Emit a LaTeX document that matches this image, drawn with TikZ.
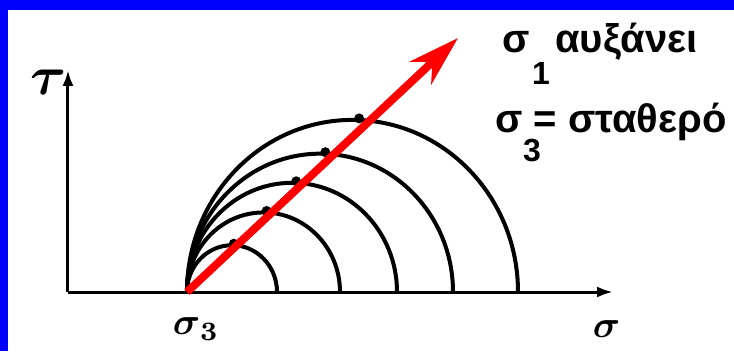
\documentclass[tikz,border=0pt]{standalone}
\usepackage[no-math]{fontspec}
\usepackage{amsmath}
\newfontfamily\greekfont{Liberation Sans}
\usetikzlibrary{arrows.meta}

\begin{document}
\begin{tikzpicture}[x=1pt, y=1pt,
  axisline/.style={line width=3pt, -{Latex[length=16pt,width=11pt]}},
  mohr/.style={line width=4pt},
  greektext/.style={inner sep=0pt, font=\greekfont\bfseries\fontsize{40}{44}\selectfont},
  greeksub/.style={inner sep=0pt, font=\greekfont\bfseries\fontsize{32}{36}\selectfont},
  axisname/.style={inner sep=0pt, scale=3.8}]
  \useasboundingbox (-68,-59) rectangle (666,292);
  % blue frame, left and top only
  \fill[blue] (-68,-59) rectangle (-60,292);
  \fill[blue] (-68,282) rectangle (666,292);

  % axes
  \coordinate (O) at (0,0);
  \coordinate (tauend) at (0,222);
  \coordinate (sigend) at (545,0);
  \coordinate (s3) at (119,0);
  \draw[axisline] (O) -- (tauend);
  \draw[axisline] (O) -- (sigend);

  % Mohr circles, all through sigma_3
  \foreach \r in {45,76.5,105,133,165.5} {
    \draw[mohr] (s3) arc[start angle=180, end angle=0, x radius=\r, y radius=1.04*\r];
    \fill ({119+1.04*\r},{1.04*\r+1.5}) circle (5);
  }

  % red arrow
  \coordinate (redtip) at (390,254);
  \draw[red, line width=8pt, -{Stealth[length=51pt,width=31pt,inset=16pt]}] (s3) -- (redtip);

  % labels
  \node[axisname, scale=1.45, anchor=base west] (taulbl) at (-39,197) {$\boldsymbol{\tau}$};
  \node[axisname, anchor=base west] (sigthreelbl) at (104,-43) {$\boldsymbol{\sigma}_{\boldsymbol{3}}$};
  \node[axisname, anchor=base west] (siglbl) at (524,-45) {$\boldsymbol{\sigma}$};

  \node[greektext, anchor=base] (sigone) at (448,239) {σ};
  \node[greeksub, anchor=base] (one) at (473,207) {1};
  \node[greektext, anchor=base west] (incr) at (487,239) {αυξάνει};
  \node[greektext, anchor=base] (sigthree) at (441,159) {σ};
  \node[greeksub, anchor=base] (three) at (464,130) {3};
  \node[greektext, anchor=base] (eq) at (477,159) {=};
  \node[greektext, anchor=base west] (const) at (500,159) {σταθερό};
\end{tikzpicture}
\end{document}
